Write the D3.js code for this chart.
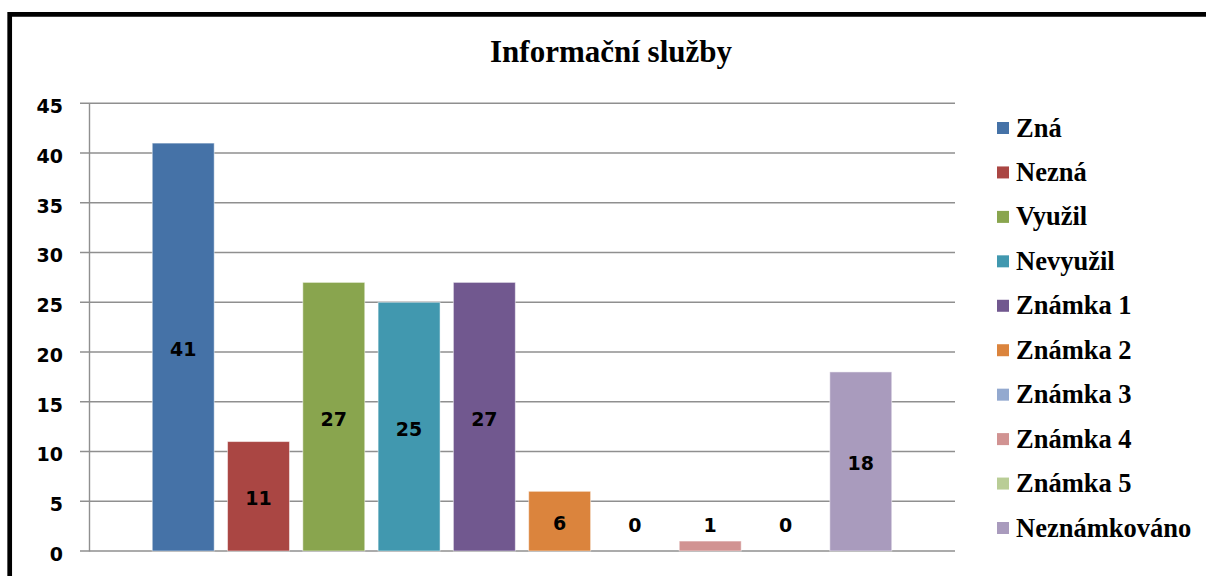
<!DOCTYPE html>
<html>
<head>
<meta charset="utf-8">
<script src="https://cdn.jsdelivr.net/npm/d3@7"></script>
<style>
  html, body { margin: 0; padding: 0; background: #fff; }
  svg { display: block; }
</style>
</head>
<body>
<svg id="chart" width="1206" height="576"></svg>
<script>
const title = "Informační služby";
const seriesNames = ["Zná", "Nezná", "Využil", "Nevyužil", "Známka 1", "Známka 2", "Známka 3", "Známka 4", "Známka 5", "Neznámkováno"];
const seriesValues = [41, 11, 27, 25, 27, 6, 0, 1, 0, 18];
const seriesColors = ["#4572A7", "#AA4643", "#89A54E", "#4198AF", "#71588F", "#DB843D", "#93A9CF", "#D19392", "#B9CD96", "#A99BBD"];
const yTicks = [0, 5, 10, 15, 20, 25, 30, 35, 40, 45];

const svg = d3.select("#chart");

// outer frame (cropped at right and bottom)
svg.append("path")
  .attr("d", "M9.7,590 V14.3 H1215")
  .attr("fill", "none")
  .attr("stroke", "#000")
  .attr("stroke-width", 4.7);

// title
svg.append("text")
  .attr("x", 611).attr("y", 62)
  .attr("text-anchor", "middle")
  .style("font-family", "'Liberation Serif', 'Times New Roman', serif")
  .style("font-weight", "bold")
  .style("font-size", "31px")
  .attr("fill", "#000")
  .text(title);

const plotLeft = 89, plotRight = 955, plotTop = 103.3, plotBottom = 551;

const y = d3.scaleLinear().domain([0, 45]).range([plotBottom, plotTop]);
const x = d3.scaleBand().domain(seriesNames).range([plotLeft, plotRight])
  .paddingInner(0.177).paddingOuter(0.84);

// gridlines
const grid = svg.append("g");
grid.selectAll("line").data(yTicks).join("line")
  .attr("x1", plotLeft - 9).attr("x2", plotRight)
  .attr("y1", d => y(d)).attr("y2", d => y(d))
  .attr("stroke", "#8f8f8f").attr("stroke-width", 1.4);

// y axis
const yAxis = d3.axisLeft(y).tickValues(yTicks).tickSize(0).tickPadding(26);
const ga = svg.append("g").attr("transform", `translate(${plotLeft},0)`).call(yAxis);
ga.select(".domain").attr("stroke", "#8f8f8f").attr("stroke-width", 1.4);
ga.selectAll("text")
  .attr("dy", "0.38em")
  .attr("transform", "translate(0,2)")
  .style("font-family", "'DejaVu Sans', sans-serif")
  .style("font-weight", "bold")
  .style("font-size", "19px")
  .attr("fill", "#000");

// bars
svg.append("g").selectAll("rect").data(seriesNames).join("rect")
  .attr("x", d => x(d))
  .attr("width", x.bandwidth())
  .attr("y", (d, i) => y(seriesValues[i]))
  .attr("height", (d, i) => y(0) - y(seriesValues[i]))
  .attr("fill", (d, i) => seriesColors[i])
  .attr("stroke", (d, i) => seriesValues[i] > 0 ? "rgba(255,255,255,0.5)" : "none")
  .attr("stroke-width", 1);

// data labels
svg.append("g").selectAll("text").data(seriesNames).join("text")
  .attr("x", d => x(d) + x.bandwidth() / 2)
  .attr("y", (d, i) => Math.min((y(seriesValues[i]) + y(0)) / 2, y(0) - 28) + 2)
  .attr("text-anchor", "middle")
  .attr("dominant-baseline", "central")
  .style("font-family", "'DejaVu Sans', sans-serif")
  .style("font-weight", "bold")
  .style("font-size", "19px")
  .attr("fill", "#000")
  .text((d, i) => seriesValues[i]);

// legend
const legend = svg.append("g");
const legendY = d3.scalePoint().domain(seriesNames).range([128, 528]);
const items = legend.selectAll("g").data(seriesNames).join("g")
  .attr("transform", d => `translate(997,${legendY(d)})`);
items.append("rect")
  .attr("x", 0).attr("y", -6).attr("width", 12).attr("height", 12)
  .attr("fill", (d, i) => seriesColors[i]);
items.append("text")
  .attr("x", 19).attr("y", 8.5)
  .style("font-family", "'Liberation Serif', 'Times New Roman', serif")
  .style("font-weight", "bold")
  .style("font-size", "26.5px")
  .attr("fill", "#000")
  .text(d => d);
</script>
</body>
</html>
